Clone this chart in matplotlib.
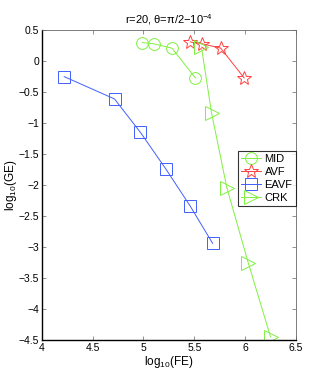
import matplotlib.pyplot as plt

plt.rcParams['font.family'] = ['Liberation Sans', 'DejaVu Sans']
plt.rcParams['mathtext.fontset'] = 'custom'
plt.rcParams['mathtext.rm'] = 'Liberation Sans'
plt.rcParams['mathtext.it'] = 'Liberation Sans'

# data: log10(FE) vs log10(GE)
mid_x = [4.99, 5.10, 5.28, 5.51]
mid_y = [0.30, 0.28, 0.21, -0.27]
avf_x = [5.46, 5.58, 5.76, 5.99]
avf_y = [0.31, 0.28, 0.21, -0.27]
eavf_x = [4.22, 4.715, 4.97, 5.22, 5.46, 5.68]
eavf_y = [-0.25, -0.61, -1.15, -1.74, -2.34, -2.94]
crk_x = [5.57, 5.67, 5.82, 6.03, 6.25]
crk_y = [0.23, -0.84, -2.04, -3.25, -4.45]

green = '#80f040'
red = '#ff4040'
blue = '#4060ff'

fig = plt.figure(figsize=(3.27, 3.82), dpi=100)
ax = fig.add_axes([0.128, 0.110, 0.777, 0.811])

ms = 8.5
lw = 0.7
ax.plot(mid_x, mid_y, '-o', color=green, mfc='none', ms=ms, lw=lw, mew=lw, label='MID')
ax.plot(avf_x, avf_y, '-*', color=red, mfc='none', ms=ms + 1.5, lw=lw, mew=lw, label='AVF')
ax.plot(eavf_x, eavf_y, '-s', color=blue, mfc='none', ms=ms, lw=lw, mew=lw, label='EAVF')
ax.plot(crk_x, crk_y, '->', color=green, mfc='none', ms=ms + 1.5, lw=lw, mew=lw, label='CRK')

ax.set_xlim(4, 6.5)
ax.set_ylim(-4.5, 0.5)
ax.set_xticks([4, 4.5, 5, 5.5, 6, 6.5])
ax.set_xticklabels(['4', '4.5', '5', '5.5', '6', '6.5'])
ax.set_yticks([-4.5, -4, -3.5, -3, -2.5, -2, -1.5, -1, -0.5, 0, 0.5])
ax.set_yticklabels(['\u22124.5', '\u22124', '\u22123.5', '\u22123', '\u22122.5', '\u22122',
                    '\u22121.5', '\u22121', '\u22120.5', '0', '0.5'])
ax.tick_params(direction='in', top=True, right=True, labelsize=7.5, length=3, width=0.5,
               color='#666666', pad=2)
for s in ['top', 'right']:
    ax.spines[s].set_color('#666666')
    ax.spines[s].set_linewidth(0.6)
for s in ['left', 'bottom']:
    ax.spines[s].set_color('black')
    ax.spines[s].set_linewidth(1.0)

ax.set_xlabel(r'log$_{10}$(FE)', fontsize=8.5, labelpad=1)
ax.set_ylabel(r'log$_{10}$(GE)', fontsize=8.5, labelpad=0)
ax.set_title(r'r=20, θ=π/2$-$10$^{-4}$', fontsize=8, pad=5)

leg = ax.legend(loc='upper right', bbox_to_anchor=(1.0, 0.61), fontsize=8, frameon=True,
                fancybox=False, edgecolor='black', borderpad=0.3, labelspacing=0.25,
                handlelength=1.8, handletextpad=0.3, borderaxespad=0)
leg.get_frame().set_linewidth(0.8)

fig.savefig('out.png', dpi=100)
